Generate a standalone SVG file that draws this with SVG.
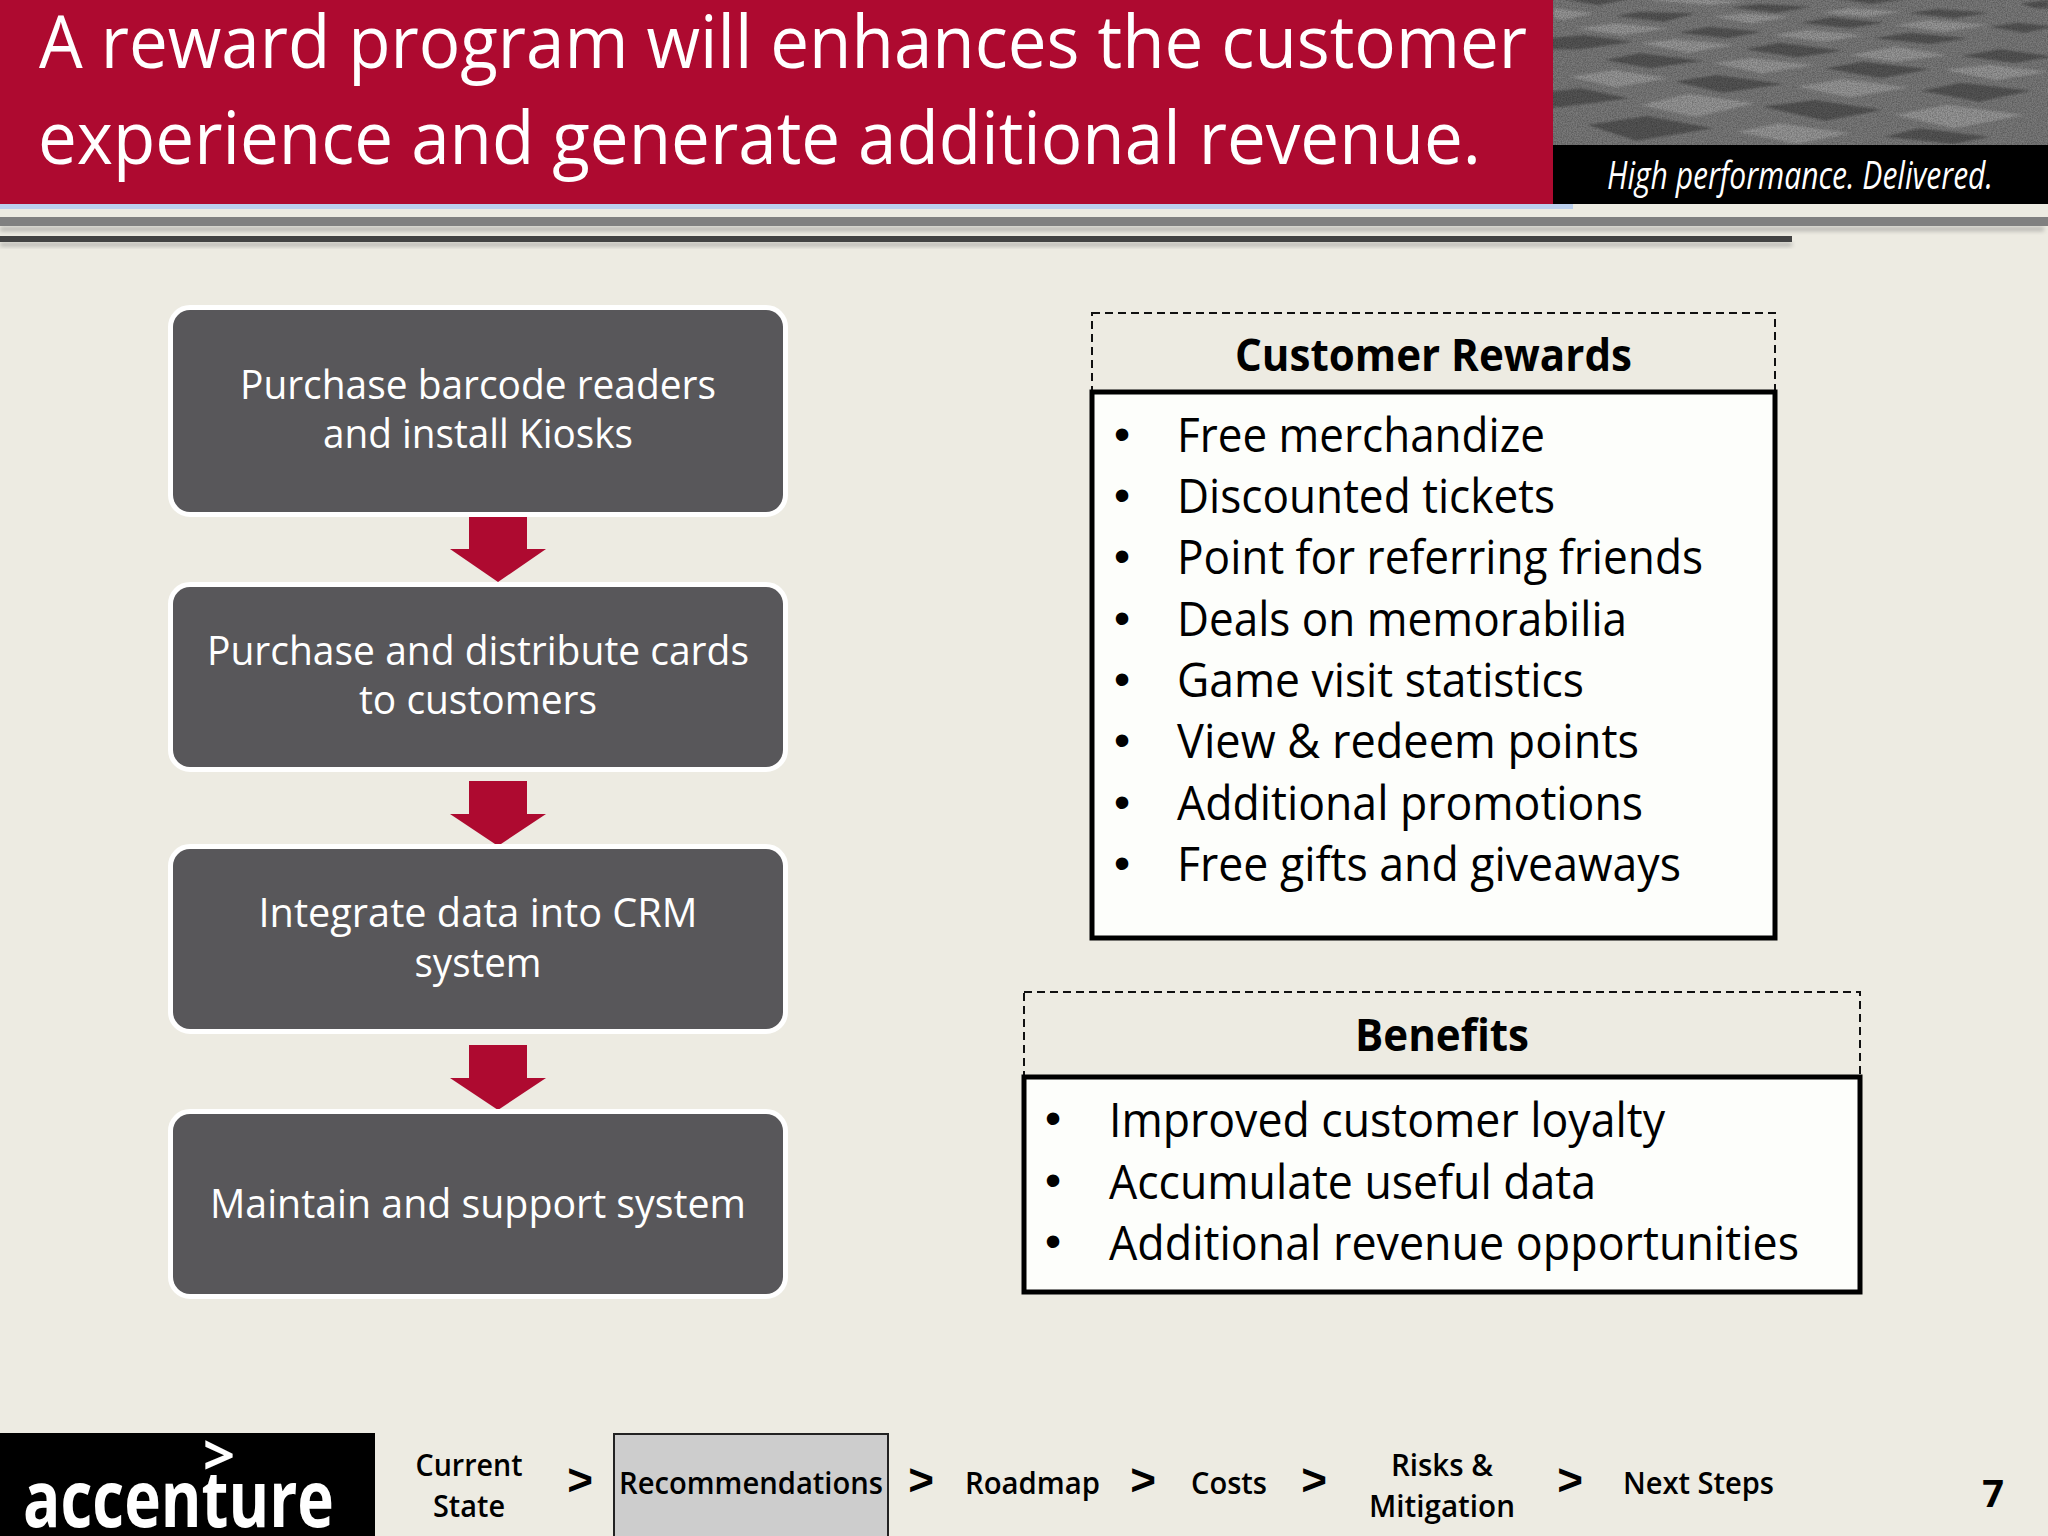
<svg xmlns="http://www.w3.org/2000/svg" width="2048" height="1536" viewBox="0 0 2048 1536">
<style>
text{font-family:"Open Sans","Noto Sans","Liberation Sans",sans-serif}
.t{fill:#fff;font-size:73px}
.b{fill:#fff;font-size:41px;text-anchor:middle}
.box{fill:#58575a;stroke:#fff;stroke-width:10;paint-order:stroke}
.arr{fill:#ae0a30}
.h{fill:#000;font-size:45px;font-weight:700}
.i{fill:#000;font-size:47px}
.dot{fill:#000;font-size:46px;text-anchor:middle;font-family:"Liberation Sans",sans-serif}
.dash{fill:none;stroke:#111;stroke-width:2;stroke-dasharray:8 5}
.solid{fill:#fdfefb;stroke:#000;stroke-width:5}
.n{fill:#000;font-size:31px;font-weight:600}
.gt{fill:#000;font-size:44px;font-weight:700;text-anchor:middle;font-family:"Liberation Sans",sans-serif}
.dk{fill:#555}.lt{fill:#979797}
</style>
<defs>
<clipPath id="ph"><rect x="1553" y="0" width="495" height="145"/></clipPath>
<filter id="s" x="-5%" y="-100%" width="110%" height="300%"><feGaussianBlur stdDeviation="2"/></filter>
<filter id="soft" x="0" y="0" width="100%" height="100%"><feGaussianBlur stdDeviation="3"/></filter>
<filter id="grain" x="0" y="0" width="100%" height="100%"><feTurbulence type="fractalNoise" baseFrequency="0.8" numOctaves="2" seed="4"/><feColorMatrix values="0 0 0 0 0 0 0 0 0 0 0 0 0 0 0 0 0 0 0.5 -0.15"/></filter>
</defs>
<rect width="2048" height="1536" fill="#edebe2"/>
<g id="header">
<rect x="0" y="0" width="1553" height="204" fill="#ae0a30"/>
<rect x="0" y="204" width="1573" height="5" fill="#bcd0ee"/>
<text class="t" x="39" y="68" textLength="1488" lengthAdjust="spacingAndGlyphs">A reward program will enhances the customer</text>
<text class="t" x="38" y="164" textLength="1443" lengthAdjust="spacingAndGlyphs">experience and generate additional revenue.</text>
<rect x="1553" y="145" width="495" height="59" fill="#000"/>
<g clip-path="url(#ph)">
<rect x="1553" y="0" width="495" height="145" fill="#7a7a7a"/>
<g transform="translate(1500,0) scale(0.3495,0.3333)" filter="url(#soft)">
<polygon class="lt" points="155,25 270,40 180,60 155,55"/>
<polygon class="lt" points="610,50 700,40 830,50 720,70"/>
<polygon class="lt" points="920,38 1000,25 1150,35 1050,50"/>
<polygon class="lt" points="220,85 330,70 480,85 350,105"/>
<polygon class="lt" points="780,105 880,90 1040,105 930,125"/>
<polygon class="lt" points="1130,75 1230,60 1400,75 1270,95"/>
<polygon class="lt" points="400,130 500,118 670,135 540,158"/>
<polygon class="lt" points="1000,165 1130,140 1280,165 1130,185"/>
<polygon class="lt" points="610,190 720,175 900,195 750,220"/>
<polygon class="lt" points="200,230 330,210 480,235 330,262"/>
<polygon class="lt" points="850,260 980,238 1170,262 1000,292"/>
<polygon class="lt" points="1270,210 1400,195 1568,215 1420,240"/>
<polygon class="lt" points="400,315 540,282 730,310 560,350"/>
<polygon class="lt" points="1130,345 1280,315 1500,345 1300,385"/>
<polygon class="lt" points="680,395 800,370 1000,400 850,432"/>
<polygon class="lt" points="420,0 500,-10 700,5 600,15"/>
<polygon class="dk" points="330,48 400,35 560,40 470,65"/>
<polygon class="dk" points="660,22 740,12 890,20 790,38"/>
<polygon class="dk" points="860,68 950,52 1100,68 1000,85"/>
<polygon class="dk" points="1170,40 1250,27 1400,38 1300,55"/>
<polygon class="dk" points="510,98 600,80 750,95 650,115"/>
<polygon class="dk" points="140,115 240,105 380,125 230,148 140,148"/>
<polygon class="dk" points="700,148 800,128 980,152 850,172"/>
<polygon class="dk" points="1070,115 1170,98 1340,115 1230,132"/>
<polygon class="dk" points="300,180 400,160 580,182 430,205"/>
<polygon class="dk" points="930,205 1040,185 1230,208 1090,235"/>
<polygon class="dk" points="1320,168 1430,148 1590,170 1470,188"/>
<polygon class="dk" points="500,245 620,225 810,252 640,278"/>
<polygon class="dk" points="140,275 230,265 370,295 170,322 140,322"/>
<polygon class="dk" points="1205,272 1320,248 1520,272 1370,305"/>
<polygon class="dk" points="750,320 900,300 1095,330 930,362"/>
<polygon class="dk" points="250,375 420,348 610,385 390,422"/>
<polygon class="dk" points="1100,410 1200,385 1400,410 1300,432"/>
<polygon class="dk" points="1400,80 1480,68 1590,80 1500,98"/>
<polygon class="dk" points="170,-5 380,-5 280,16"/>
<polygon class="dk" points="960,-5 1180,-5 1060,12"/>
<polygon class="dk" points="1490,10 1568,0 1568,25 1530,25"/>
</g>
<rect x="1553" y="0" width="495" height="145" filter="url(#grain)"/>
</g>
<text x="1607" y="189" fill="#fff" font-size="38" font-style="italic" textLength="386" lengthAdjust="spacingAndGlyphs">High performance. Delivered.</text>
<rect x="0" y="227" width="2044" height="4" fill="#777" opacity=".5" filter="url(#s)"/>
<rect x="0" y="217" width="2048" height="9" fill="#808080"/>
<rect x="0" y="243" width="1792" height="3" fill="#777" opacity=".6" filter="url(#s)"/>
<rect x="0" y="236" width="1792" height="6" fill="#434343"/>
</g>
<g id="connectors">
<polygon class="arr" points="469,516 527,516 527,549 546,549 498,582 450,549 469,549"/>
<polygon class="arr" points="469,781 527,781 527,814 546,814 498,846 450,814 469,814"/>
<polygon class="arr" points="469,1045 527,1045 527,1078 546,1078 498,1110 450,1078 469,1078"/>
</g>
<g id="step1"><rect class="box" x="173" y="310" width="610" height="202" rx="17"/>
<text class="b" x="478" y="399" textLength="476" lengthAdjust="spacingAndGlyphs">Purchase barcode readers</text>
<text class="b" x="478" y="448" textLength="310" lengthAdjust="spacingAndGlyphs">and install Kiosks</text></g>
<g id="step2"><rect class="box" x="173" y="587" width="610" height="180" rx="17"/>
<text class="b" x="478" y="665" textLength="542" lengthAdjust="spacingAndGlyphs">Purchase and distribute cards</text>
<text class="b" x="478" y="714" textLength="238" lengthAdjust="spacingAndGlyphs">to customers</text></g>
<g id="step3"><rect class="box" x="173" y="849" width="610" height="180" rx="17"/>
<text class="b" x="478" y="927" textLength="439" lengthAdjust="spacingAndGlyphs">Integrate data into CRM</text>
<text class="b" x="478" y="977" textLength="127" lengthAdjust="spacingAndGlyphs">system</text></g>
<g id="step4"><rect class="box" x="173" y="1114" width="610" height="180" rx="17"/>
<text class="b" x="478" y="1218" textLength="536" lengthAdjust="spacingAndGlyphs">Maintain and support system</text></g>
<g id="customer-rewards">
<rect class="dash" x="1092" y="313" width="683" height="79"/>
<text class="h" x="1235" y="371" textLength="397" lengthAdjust="spacingAndGlyphs">Customer Rewards</text>
<rect class="solid" x="1092" y="392" width="683" height="546"/>
<text class="dot" x="1122" y="450">•</text><text class="i" x="1177" y="452" textLength="368" lengthAdjust="spacingAndGlyphs">Free merchandize</text>
<text class="dot" x="1122" y="511">•</text><text class="i" x="1177" y="513" textLength="378" lengthAdjust="spacingAndGlyphs">Discounted tickets</text>
<text class="dot" x="1122" y="572">•</text><text class="i" x="1177" y="574" textLength="526" lengthAdjust="spacingAndGlyphs">Point for referring friends</text>
<text class="dot" x="1122" y="634">•</text><text class="i" x="1177" y="636" textLength="450" lengthAdjust="spacingAndGlyphs">Deals on memorabilia</text>
<text class="dot" x="1122" y="695">•</text><text class="i" x="1177" y="697" textLength="407" lengthAdjust="spacingAndGlyphs">Game visit statistics</text>
<text class="dot" x="1122" y="756">•</text><text class="i" x="1177" y="758" textLength="462" lengthAdjust="spacingAndGlyphs">View &amp; redeem points</text>
<text class="dot" x="1122" y="818">•</text><text class="i" x="1177" y="820" textLength="466" lengthAdjust="spacingAndGlyphs">Additional promotions</text>
<text class="dot" x="1122" y="879">•</text><text class="i" x="1177" y="881" textLength="504" lengthAdjust="spacingAndGlyphs">Free gifts and giveaways</text>
</g>
<g id="benefits">
<rect class="dash" x="1024" y="992" width="836" height="85"/>
<text class="h" x="1355" y="1051" textLength="174" lengthAdjust="spacingAndGlyphs">Benefits</text>
<rect class="solid" x="1024" y="1077" width="836" height="215"/>
<text class="dot" x="1053" y="1134">•</text><text class="i" x="1109" y="1137" textLength="556" lengthAdjust="spacingAndGlyphs">Improved customer loyalty</text>
<text class="dot" x="1053" y="1196">•</text><text class="i" x="1109" y="1199" textLength="487" lengthAdjust="spacingAndGlyphs">Accumulate useful data</text>
<text class="dot" x="1053" y="1257">•</text><text class="i" x="1109" y="1260" textLength="690" lengthAdjust="spacingAndGlyphs">Additional revenue opportunities</text>
</g>
<g id="logo">
<rect x="0" y="1433" width="375" height="103" fill="#000"/>
<text x="219" y="1475" fill="#fff" font-size="56" font-weight="700" text-anchor="middle" font-family="Liberation Sans">&gt;</text>
<text x="23" y="1527" fill="#fff" font-size="78" font-weight="700" textLength="311" lengthAdjust="spacingAndGlyphs">accenture</text>
</g>
<g id="nav">
<text class="n" x="469" y="1476" text-anchor="middle" textLength="107" lengthAdjust="spacingAndGlyphs">Current</text>
<text class="n" x="469" y="1517" text-anchor="middle" textLength="72" lengthAdjust="spacingAndGlyphs">State</text>
<text class="gt" x="580" y="1495">&gt;</text>
<g id="nav-current"><rect x="614" y="1434" width="274" height="104" fill="#cdcdcd" stroke="#222" stroke-width="2"/>
<text class="n" x="619" y="1494" textLength="264" lengthAdjust="spacingAndGlyphs">Recommendations</text></g>
<text class="gt" x="921" y="1495">&gt;</text>
<text class="n" x="965" y="1494" textLength="135" lengthAdjust="spacingAndGlyphs">Roadmap</text>
<text class="gt" x="1143" y="1495">&gt;</text>
<text class="n" x="1191" y="1494" textLength="76" lengthAdjust="spacingAndGlyphs">Costs</text>
<text class="gt" x="1314" y="1495">&gt;</text>
<text class="n" x="1442" y="1476" text-anchor="middle" textLength="102" lengthAdjust="spacingAndGlyphs">Risks &amp;</text>
<text class="n" x="1442" y="1517" text-anchor="middle" textLength="146" lengthAdjust="spacingAndGlyphs">Mitigation</text>
<text class="gt" x="1570" y="1495">&gt;</text>
<text class="n" x="1623" y="1494" textLength="151" lengthAdjust="spacingAndGlyphs">Next Steps</text>
<text x="1993" y="1507" fill="#000" font-size="38" font-weight="700" text-anchor="middle">7</text>
</g>
</svg>
